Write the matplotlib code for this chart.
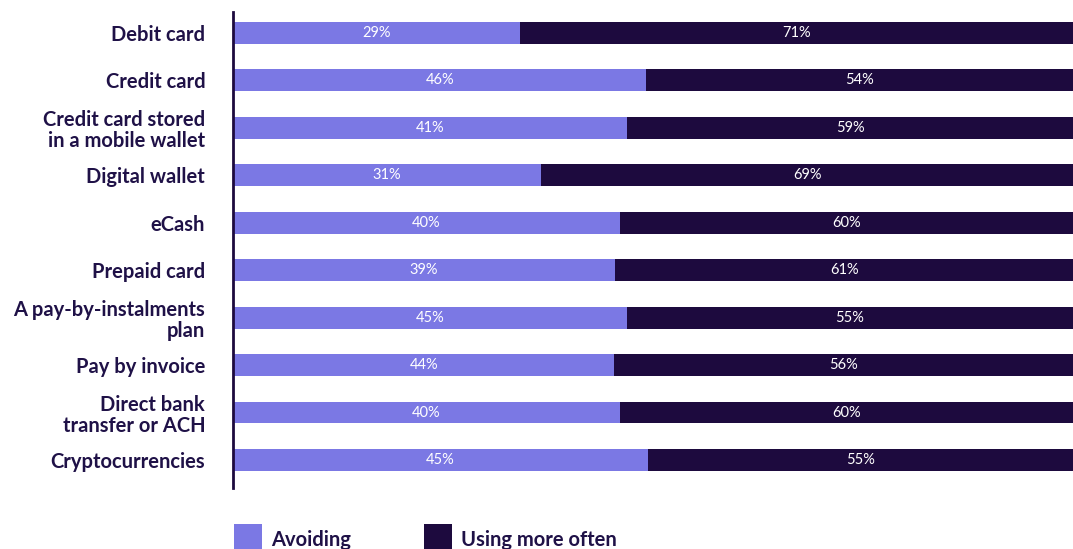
import matplotlib
matplotlib.use("Agg")
import matplotlib.pyplot as plt
from matplotlib.patches import Rectangle

categories = ["Debit card", "Credit card", "Credit card stored\nin a mobile wallet",
              "Digital wallet", "eCash", "Prepaid card", "A pay-by-instalments\nplan",
              "Pay by invoice", "Direct bank\ntransfer or ACH", "Cryptocurrencies"]
# bar lengths as drawn in the reference (share of the full row width, %)
avoiding_bar = [34.2, 49.2, 46.9, 36.7, 46.1, 45.5, 46.9, 45.4, 46.1, 49.4]
# printed labels
avoiding_label = [29, 46, 41, 31, 40, 39, 45, 44, 40, 45]
using_label = [71, 54, 59, 69, 60, 61, 55, 56, 60, 55]
series_names = ["Avoiding", "Using more often"]

c_avoid = "#7B78E4"
c_use = "#1D0A3E"
c_text = "#1F1147"

plt.rcParams['font.family'] = ['Lato', 'DejaVu Sans']

W, H = 1073, 549
fig = plt.figure(figsize=(W / 100, H / 100), dpi=100)
ax = fig.add_axes([233 / W, 1 - 488 / H, 1 - 233 / W, (488 - 12) / H])

y = list(range(len(categories)))
using_bar = [100 - a for a in avoiding_bar]
bh = 0.46
ax.barh(y, avoiding_bar, height=bh, color=c_avoid, label=series_names[0])
ax.barh(y, using_bar, left=avoiding_bar, height=bh, color=c_use, label=series_names[1])

for i in y:
    ax.text(avoiding_bar[i] / 2, i, f"{avoiding_label[i]}%", ha="center", va="center",
            color="white", fontsize=10.5)
    ax.text(avoiding_bar[i] + using_bar[i] / 2, i, f"{using_label[i]}%", ha="center",
            va="center", color="white", fontsize=10.5)

ax.set_xlim(0, 100)
ax.set_ylim(9.59, -0.44)
ax.set_yticks(y)
ax.set_yticklabels(categories, fontsize=14.5, fontweight="bold", color=c_text,
                   linespacing=1.1)
ax.tick_params(axis="y", length=0, pad=20)
ax.set_xticks([])
for s in ["top", "right", "bottom"]:
    ax.spines[s].set_visible(False)
ax.spines["left"].set_color(c_use)
ax.spines["left"].set_linewidth(2)

# legend, laid out by hand below the plot
for x0, col, name in [(234, c_avoid, series_names[0]), (424, c_use, series_names[1])]:
    fig.add_artist(Rectangle((x0 / W, 0), 28 / W, 25 / H, transform=fig.transFigure,
                             facecolor=col, edgecolor="none"))
    fig.text((x0 + 37) / W, 1 - 539.5 / H, name, ha="left", va="center",
             fontsize=14.5, fontweight="bold", color=c_text)

fig.savefig("out.png", dpi=100)
